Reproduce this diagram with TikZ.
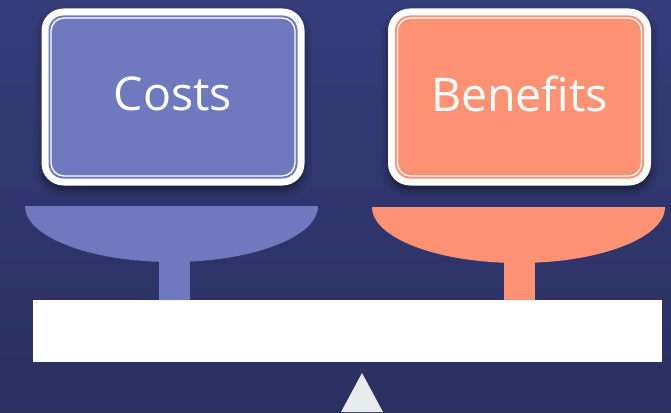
\documentclass[tikz,border=0pt]{standalone}
\usepackage{fontspec}
\setmainfont{Open Sans}
\usepackage{tikz}
\usetikzlibrary{positioning, calc, shadows.blur}
\definecolor{bgtop}{RGB}{53, 60, 121}
\definecolor{bgbottom}{RGB}{42, 48, 96}
\definecolor{costblue}{RGB}{111, 122, 190}
\definecolor{gainsalmon}{RGB}{255, 146, 115}
\definecolor{pivotgrey}{RGB}{233, 234, 238}

\begin{document}
\begin{tikzpicture}[
    x=1pt, y=-1pt,
    card/.style={fill=white, rounded corners=22pt, minimum width=263pt,
                 minimum height=177pt, inner sep=0pt,
                 blur shadow={shadow xshift=0pt, shadow yshift=-5pt,
                              shadow blur radius=7pt, shadow opacity=45}},
    face/.style={rounded corners=15pt, minimum width=249pt,
                 minimum height=163pt, inner sep=0pt},
    rim/.style={draw=white, line width=1.3pt, rounded corners=13pt,
                minimum width=244pt, minimum height=158pt, inner sep=0pt},
    label/.style={text=white, font=\fontsize{46.5}{52}\selectfont},
    stem/.style={line width=31pt},
  ]
    % Background
    \shade[top color=bgtop, bottom color=bgbottom] (0,0) rectangle (671,412);
    \useasboundingbox (0,0) rectangle (671,412);

    % Cards
    \node[card] (costcard) at (173,97) {};
    \node[face, fill=costblue] at (costcard) {};
    \node[rim] at (costcard) {};
    \node[label] (costs) at (173,94) {Costs};

    \node[card] (gaincard) at (519.5,97) {};
    \node[face, fill=gainsalmon] at (gaincard) {};
    \node[rim] at (gaincard) {};
    \node[label] (benefits) at (519.5,94) {Benefits};

    % Pans
    \fill[costblue] (25,206) -- (318,206)
      arc[start angle=0, end angle=-180, x radius=146.5pt, y radius=56pt] -- cycle;
    \fill[gainsalmon] (372,207) -- (665,207)
      arc[start angle=0, end angle=-180, x radius=146.5pt, y radius=56pt] -- cycle;
    \coordinate (costpan) at (174.5,258);
    \coordinate (gainpan) at (519.5,258);

    % Beam
    \node[fill=white, minimum width=629pt, minimum height=62pt, inner sep=0pt]
      (beam) at (347.5,331) {};

    % Stems
    \draw[stem, costblue] (costpan) -- (costpan |- beam.north);
    \draw[stem, gainsalmon] (gainpan) -- (gainpan |- beam.north);

    % Pivot
    \coordinate (pivot) at (362,373);
    \fill[pivotgrey] (pivot) -- ++(21,39) -- ++(-42,0) -- cycle;
  \end{tikzpicture}
\end{document}
